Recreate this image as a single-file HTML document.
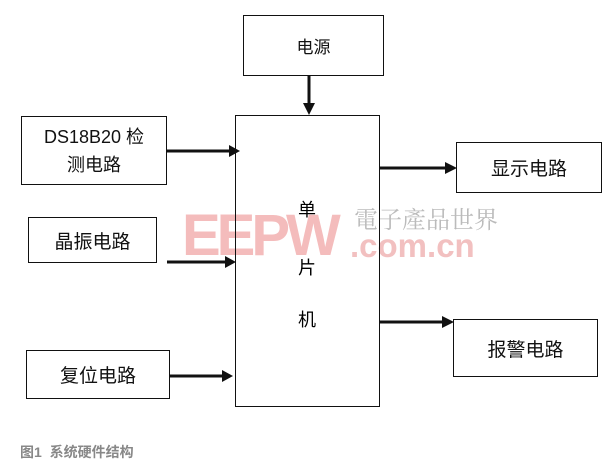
<!DOCTYPE html>
<html><head><meta charset="utf-8"><style>
html,body{margin:0;padding:0;background:#fff;}
#c{position:relative;width:612px;height:472px;overflow:hidden;font-family:"Liberation Sans","Noto Sans CJK SC",sans-serif;}
.b{position:absolute;border:1.5px solid #111;box-sizing:border-box;display:flex;align-items:center;justify-content:center;text-align:center;font-size:19px;color:#111;background:transparent;}
.t{position:absolute;}
</style></head><body><div id="c">
<div class="t" style="left:182px;top:206px;font:bold 58px 'Liberation Sans',sans-serif;color:#f4bcbc;letter-spacing:-4px;line-height:60px;">EEPW</div>
<div class="t" style="left:350px;top:228px;font:bold 33px 'Liberation Sans',sans-serif;color:#f2c0c0;line-height:36px;">.com.cn</div>
<div class="t" style="left:354px;top:203px;font-size:24px;color:#bbb;font-family:'Noto Serif CJK SC',serif;line-height:30px;">電子產品世界</div>

<div class="b" style="left:243px;top:15px;width:141px;height:61px;font-size:17px;">电源</div>
<div class="b" style="left:21px;top:116px;width:146px;height:69px;line-height:28px;font-size:18px;">DS18B20 检<br>测电路</div>
<div class="b" style="left:235px;top:115px;width:145px;height:292px;"></div>
<div class="t" style="left:298px;top:197px;font-size:18px;line-height:26px;">单</div>
<div class="t" style="left:298px;top:255px;font-size:18px;line-height:26px;">片</div>
<div class="t" style="left:298px;top:307px;font-size:18px;line-height:26px;">机</div>
<div class="b" style="left:456px;top:142px;width:146px;height:51px;">显示电路</div>
<div class="b" style="left:28px;top:217px;width:129px;height:46px;">晶振电路</div>
<div class="b" style="left:26px;top:350px;width:144px;height:49px;">复位电路</div>
<div class="b" style="left:453px;top:319px;width:145px;height:58px;">报警电路</div>

<svg class="t" style="left:0;top:0" width="612" height="472">
<g stroke="#111" stroke-width="3" fill="#111">
<line x1="309" y1="76" x2="309" y2="104"/><polygon points="303,103 315,103 309,115" stroke="none"/>
<line x1="167" y1="151" x2="230" y2="151"/><polygon points="229,145 229,157 240,151" stroke="none"/>
<line x1="167" y1="262" x2="226" y2="262"/><polygon points="225,256 225,268 236,262" stroke="none"/>
<line x1="170" y1="376" x2="223" y2="376"/><polygon points="222,370 222,382 233,376" stroke="none"/>
<line x1="380" y1="168" x2="446" y2="168"/><polygon points="445,162 445,174 457,168" stroke="none"/>
<line x1="380" y1="322" x2="443" y2="322"/><polygon points="442,316 442,328 454,322" stroke="none"/>
</g></svg>
<div class="t" style="left:20px;top:442px;font-size:14px;font-weight:bold;color:#888;">图1&nbsp; 系统硬件结构</div>
</div></body></html>
